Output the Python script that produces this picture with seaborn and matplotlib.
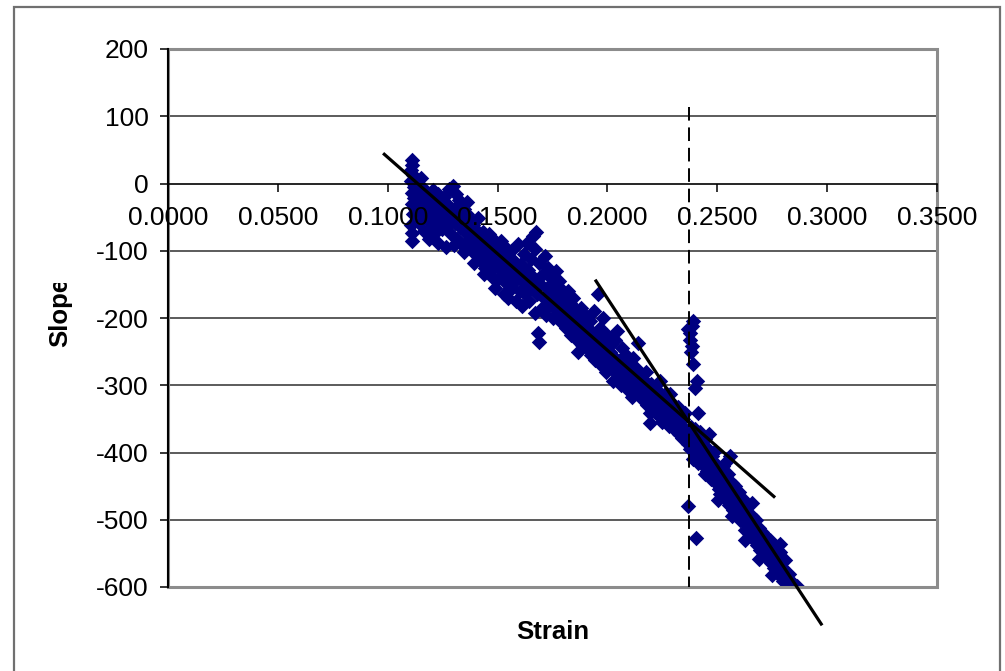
import matplotlib
matplotlib.use("Agg")
import matplotlib.pyplot as plt
import matplotlib.patches as mpatches
from matplotlib.transforms import Bbox, TransformedBbox
import seaborn as sns
import pandas as pd

# ---------------- data ----------------
band_start = [
    (0.1110, 35), (0.1112, 28), (0.1108, 20), (0.1115, 12), (0.1105, 3), (0.1120, -5),
    (0.1112, -14), (0.1118, -22), (0.1110, -30), (0.1125, -38), (0.1115, -46), (0.1108, -62),
    (0.1112, -74), (0.1110, -85), (0.1135, 5), (0.1140, -2), (0.1150, 8), (0.1145, -12),
    (0.1160, -18), (0.1138, -26), (0.1152, -33), (0.1165, -8), (0.1170, -28), (0.1158, -45),
    (0.1175, -40), (0.1180, -15), (0.1185, -55), (0.1190, -30), (0.1195, -22), (0.1200, -48),
    (0.1205, -10), (0.1210, -35), (0.1215, -60), (0.1220, -25), (0.1225, -42), (0.1230, -15),
    (0.1235, -52), (0.1240, -30), (0.1245, -68), (0.1250, -38),
    (0.1165, -70), (0.1190, -82), (0.1210, -75), (0.1230, -88), (0.1142, -58), (0.1198, -65),
]
band_early = [
    (0.1255, -20), (0.1260, -55), (0.1265, -95), (0.1270, -30), (0.1275, -62), (0.1280, -8),
    (0.1285, -45), (0.1290, -75), (0.1295, -3), (0.1300, -40), (0.1305, -58), (0.1310, -15),
    (0.1315, -82), (0.1320, -48), (0.1325, -25), (0.1330, -65), (0.1335, -90), (0.1340, -52),
    (0.1345, -38), (0.1350, -72), (0.1355, -60), (0.1360, -45), (0.1365, -85), (0.1370, -68),
    (0.1375, -55), (0.1380, -95), (0.1385, -78), (0.1390, -62), (0.1395, -105), (0.1400, -85),
    (0.1405, -70), (0.1410, -52), (0.1415, -98), (0.1420, -80), (0.1425, -115), (0.1430, -90),
    (0.1435, -72), (0.1440, -105), (0.1445, -125), (0.1450, -88), (0.1455, -110), (0.1460, -75),
    (0.1465, -130), (0.1470, -98), (0.1475, -115), (0.1480, -140), (0.1485, -105), (0.1488, -155),
    (0.1490, -85), (0.1495, -122),
    (0.1302, -92), (0.1348, -102), (0.1392, -118), (0.1438, -135), (0.1318, -32), (0.1362, -28),
]
band_mid = [
    (0.1500, -100), (0.1505, -140), (0.1510, -118), (0.1515, -85), (0.1520, -130), (0.1525, -108),
    (0.1530, -165), (0.1535, -95), (0.1540, -125), (0.1545, -150), (0.1548, -170), (0.1550, -112),
    (0.1555, -138), (0.1560, -100), (0.1565, -155), (0.1570, -128), (0.1575, -115), (0.1580, -145),
    (0.1585, -175), (0.1590, -132), (0.1595, -90), (0.1600, -160), (0.1605, -120), (0.1610, -182),
    (0.1615, -140), (0.1620, -105), (0.1625, -165), (0.1630, -150), (0.1635, -88), (0.1640, -128),
    (0.1645, -175), (0.1650, -112), (0.1655, -155), (0.1660, -78), (0.1665, -140), (0.1670, -98),
    (0.1672, -192), (0.1675, -72), (0.1680, -165), (0.1685, -222), (0.1688, -236), (0.1690, -118),
    (0.1695, -150), (0.1700, -185), (0.1705, -135), (0.1710, -170), (0.1715, -108), (0.1720, -195),
    (0.1725, -155), (0.1730, -125), (0.1735, -180), (0.1740, -162), (0.1745, -140), (0.1750, -200),
]
band_late = [
    (0.1755, -150), (0.1760, -175), (0.1765, -130), (0.1770, -190), (0.1775, -165), (0.1780, -145),
    (0.1785, -205), (0.1790, -178), (0.1795, -158), (0.1800, -195), (0.1805, -170), (0.1810, -215),
    (0.1815, -185), (0.1820, -160), (0.1825, -200), (0.1830, -178), (0.1835, -225), (0.1840, -192),
    (0.1845, -170), (0.1850, -210), (0.1855, -188), (0.1860, -232), (0.1866, -251), (0.1870, -200),
    (0.1875, -218), (0.1880, -185), (0.1885, -240), (0.1890, -208), (0.1895, -225), (0.1900, -195),
    (0.1905, -245), (0.1910, -215), (0.1915, -232), (0.1920, -205), (0.1925, -255), (0.1930, -222),
    (0.1935, -240), (0.1940, -190), (0.1945, -262), (0.1950, -230), (0.1957, -164), (0.1960, -248),
    (0.1965, -215), (0.1970, -270), (0.1975, -235), (0.1980, -200), (0.1985, -258), (0.1990, -242),
    (0.1995, -280), (0.2000, -225), (0.2005, -265), (0.2010, -250), (0.2015, -238), (0.2020, -275),
    (0.2025, -293), (0.2030, -258), (0.2035, -232), (0.2040, -270), (0.2045, -219), (0.2050, -285),
    (0.2055, -262), (0.2060, -300), (0.2065, -245), (0.2070, -278), (0.2075, -292), (0.2080, -265),
    (0.2085, -255), (0.2090, -305), (0.2095, -282), (0.2100, -270),
]
band_knee = [
    (0.2105, -295), (0.2110, -318), (0.2115, -260), (0.2120, -288), (0.2125, -305), (0.2130, -275),
    (0.2135, -295), (0.2140, -237), (0.2145, -312), (0.2150, -285), (0.2155, -300), (0.2160, -322),
    (0.2165, -292), (0.2170, -310), (0.2175, -280), (0.2180, -330), (0.2185, -305), (0.2190, -318),
    (0.2194, -342), (0.2196, -356), (0.2200, -298), (0.2205, -325), (0.2210, -312), (0.2215, -340),
    (0.2220, -305), (0.2225, -328), (0.2230, -318), (0.2235, -345), (0.2240, -293), (0.2245, -332),
    (0.2250, -355), (0.2255, -320), (0.2260, -338), (0.2265, -312), (0.2270, -348), (0.2275, -330),
    (0.2280, -360), (0.2285, -313), (0.2290, -342), (0.2295, -352), (0.2300, -328), (0.2305, -365),
    (0.2310, -340), (0.2315, -355), (0.2320, -333), (0.2325, -372), (0.2330, -345), (0.2335, -360),
    (0.2340, -378), (0.2345, -350), (0.2350, -365), (0.2355, -342), (0.2360, -372), (0.2365, -388),
]
spike = [
    (0.2390, -204), (0.2385, -212), (0.2367, -216), (0.2375, -222), (0.2378, -233), (0.2385, -241),
    (0.2382, -250), (0.2390, -268), (0.2408, -293), (0.2398, -304), (0.2412, -341), (0.2367, -479),
    (0.2403, -527),
]
band_final = [
    (0.2372, -372), (0.2378, -395), (0.2382, -362), (0.2388, -410), (0.2392, -380), (0.2398, -365),
    (0.2402, -398), (0.2408, -375), (0.2412, -415), (0.2418, -388), (0.2422, -370), (0.2428, -405),
    (0.2432, -392), (0.2438, -420), (0.2442, -380), (0.2448, -402), (0.2452, -428), (0.2458, -395),
    (0.2462, -372), (0.2468, -415), (0.2472, -440), (0.2478, -405), (0.2482, -425), (0.2488, -398),
    (0.2492, -445), (0.2498, -418), (0.2502, -435), (0.2508, -455), (0.2512, -461), (0.2518, -430),
    (0.2522, -448), (0.2528, -420), (0.2532, -468), (0.2538, -440), (0.2542, -455), (0.2548, -432),
    (0.2552, -478), (0.2558, -405), (0.2562, -460), (0.2568, -445), (0.2572, -485), (0.2578, -468),
    (0.2582, -450), (0.2588, -492), (0.2592, -475), (0.2598, -458), (0.2602, -500), (0.2608, -482),
    (0.2612, -468), (0.2617, -502), (0.2622, -490), (0.2628, -515), (0.2635, -476), (0.2640, -505),
    (0.2645, -492), (0.2650, -522), (0.2655, -508), (0.2660, -495), (0.2665, -530), (0.2670, -515),
    (0.2675, -500), (0.2680, -538), (0.2685, -522), (0.2690, -512), (0.2695, -545), (0.2700, -528),
    (0.2705, -518), (0.2710, -550), (0.2715, -535), (0.2720, -525), (0.2726, -536), (0.2730, -558),
    (0.2735, -542), (0.2740, -530), (0.2745, -565), (0.2750, -550), (0.2755, -538), (0.2760, -572),
    (0.2765, -555), (0.2770, -545), (0.2775, -578), (0.2780, -562), (0.2785, -548), (0.2790, -585),
    (0.2795, -570), (0.2800, -591), (0.2805, -575), (0.2810, -560), (0.2815, -588), (0.2820, -595),
    (0.2825, -580), (0.2830, -601), (0.2838, -592), (0.2845, -598), (0.2850, -600), (0.2862, -598),
    (0.2445, -432), (0.2505, -470), (0.2565, -495), (0.2625, -530), (0.2688, -558), (0.2748, -582),
    (0.2545, -412), (0.2660, -475), (0.2786, -536),
]

fit1_strain = [0.0979, 0.2763]
fit1_slope = [45, -467]
fit2_strain = [0.1944, 0.2977]
fit2_slope = [-143, -657]
transition_strain = 0.2371
transition_slope = [114, -600]

x_ticks = [0.0, 0.05, 0.10, 0.15, 0.20, 0.25, 0.30, 0.35]
y_ticks = [-600, -500, -400, -300, -200, -100, 0, 100, 200]

# ---------------- figure ----------------
sns.set_theme(style="white")
plt.rcParams["font.family"] = ["Liberation Sans", "DejaVu Sans"]
plt.rcParams["axes.unicode_minus"] = False

W, H = 1005, 671
fig = plt.figure(figsize=(W / 100, H / 100), dpi=100)
fig.patch.set_facecolor("white")
L, R, T, B = 168, 937, 49, 587
ax = fig.add_axes([L / W, 1 - B / H, (R - L) / W, (B - T) / H])
ax.set_facecolor("white")

all_pts = band_start + band_early + band_mid + band_late + band_knee + spike + band_final
df = pd.DataFrame({"Strain": [p[0] for p in all_pts], "Slope": [p[1] for p in all_pts]})

# gridlines
for v in y_ticks[1:-1]:
    if v != 0:
        ax.axhline(v, color="#404040", lw=1.2, zorder=0.5)

sns.scatterplot(data=df, x="Strain", y="Slope", marker="D", color="#000080",
                s=62, linewidth=0, ax=ax, zorder=2)

ax.plot(fit1_strain, fit1_slope, color="black", lw=2.3, zorder=4, clip_on=False,
        solid_capstyle="butt")
ax.plot(fit2_strain, fit2_slope, color="black", lw=2.3, zorder=4, clip_on=False,
        solid_capstyle="butt")
ax.plot([transition_strain, transition_strain], transition_slope, color="black",
        lw=1.4, ls=(0, (7, 3.5)), zorder=4)

ax.set_xlim(0, 0.35)
ax.set_ylim(-600, 200)
ax.set_xticks(x_ticks)
ax.set_yticks(y_ticks)
ax.set_xticklabels([f"{v:.4f}" for v in x_ticks])
ax.set_yticklabels([str(v) for v in y_ticks])
ax.set_xlabel("")
ax.set_ylabel("")

# spines
ax.spines["bottom"].set_position(("data", 0))
ax.spines["bottom"].set_color("black")
ax.spines["bottom"].set_linewidth(1.2)
ax.spines["left"].set_color("black")
ax.spines["left"].set_linewidth(1.5)
ax.spines["top"].set_visible(False)
ax.spines["right"].set_visible(False)
for s in ["bottom", "left"]:
    ax.spines[s].set_zorder(5)
border = mpatches.Rectangle((0, 0), 1, 1, transform=ax.transAxes, fill=False,
                            edgecolor="#8c8c8c", lw=2.2, clip_on=False, zorder=3)
ax.add_patch(border)

ax.tick_params(axis="x", direction="out", length=5.5, width=1.1, color="black",
               pad=11, labelsize=19, labelcolor="black", bottom=True)
ax.tick_params(axis="y", direction="out", length=6, width=1.1, color="black",
               pad=8, labelsize=19, labelcolor="black", left=True)
ax.xaxis.set_zorder(6)
ax.yaxis.set_zorder(6)

# axis titles
fig.text(((L + R) / 2) / W, 1 - 632 / H, "Strain", ha="center", va="center",
         fontsize=18.5, fontweight="bold", color="black")
ylab = fig.text(60 / W, 1 - 312 / H, "Slope", ha="center", va="center", rotation=90,
                fontsize=18.5, fontweight="bold", color="black")
ylab.set_clip_on(True)
ylab.set_clip_box(TransformedBbox(Bbox([[0, 0], [1, 1 - 283 / H]]), fig.transFigure))

# outer chart frame
frame = mpatches.Rectangle((14 / W, -0.05), (1000 - 14) / W, 0.05 + 1 - 7 / H,
                           transform=fig.transFigure, fill=False, edgecolor="#707070",
                           lw=1.6, clip_on=False)
fig.patches.append(frame)

fig.savefig("out.png", dpi=100)
